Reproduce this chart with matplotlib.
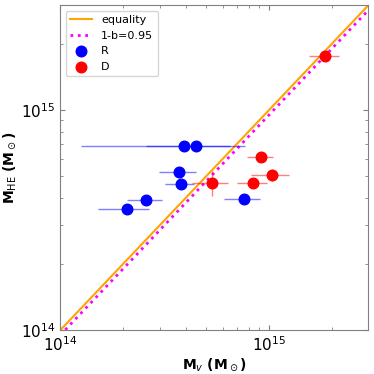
#!/usr/bin/env python3

import matplotlib
matplotlib.use("Agg")
import matplotlib.pyplot as plt
import numpy as np

# ---------------- data ----------------
# R sample: M_v, lower/upper bound of M_v, M_HE
r_mv = [2.10e14, 2.59e14, 3.71e14, 3.78e14, 3.92e14, 4.46e14, 7.59e14]
r_mv_lo = [1.52e14, 2.10e14, 2.98e14, 3.18e14, 1.26e14, 2.58e14, 6.08e14]
r_mv_hi = [2.67e14, 3.09e14, 4.46e14, 4.40e14, 6.50e14, 7.70e14, 9.08e14]
r_mhe = [3.57e14, 3.92e14, 5.24e14, 4.61e14, 6.88e14, 6.88e14, 3.95e14]

# D sample
d_mv = [1.86e15, 9.15e14, 1.04e15, 8.41e14, 5.35e14]
d_mv_lo = [1.56e15, 7.84e14, 8.22e14, 7.07e14, 4.30e14]
d_mv_hi = [2.16e15, 1.052e15, 1.256e15, 9.78e14, 6.36e14]
d_mhe = [1.77e15, 6.11e14, 5.08e14, 4.66e14, 4.69e14]
d_mhe_lo = [1.77e15, 6.11e14, 4.79e14, 4.66e14, 4.08e14]
d_mhe_hi = [1.77e15, 6.11e14, 5.39e14, 4.66e14, 5.30e14]

bias = 0.95
xlim = (1e14, 3e15)
ylim = (1e14, 3e15)


def asym(vals, lo, hi):
    vals = np.array(vals)
    return [vals - np.array(lo), np.array(hi) - vals]


fig, ax = plt.subplots(figsize=(3.74, 3.74), dpi=100)
fig.subplots_adjust(left=0.161, right=0.985, bottom=0.117, top=0.986)

grid = np.logspace(14, np.log10(3e15), 100)
ax.plot(grid, grid, color="orange", lw=1.5, label="equality")
ax.plot(grid, bias * grid, color="magenta", lw=2, ls=":", label="1-b=%.2f" % bias)

ax.errorbar(r_mv, r_mhe, xerr=asym(r_mv, r_mv_lo, r_mv_hi), fmt="none",
            ecolor="blue", alpha=0.5, lw=1)
ax.errorbar(d_mv, d_mhe, xerr=asym(d_mv, d_mv_lo, d_mv_hi),
            yerr=asym(d_mhe, d_mhe_lo, d_mhe_hi), fmt="none",
            ecolor="red", alpha=0.5, lw=1)
ax.scatter(r_mv, r_mhe, s=58, color="blue", label="R", zorder=3)
ax.scatter(d_mv, d_mhe, s=58, color="red", label="D", zorder=3)

ax.set_xscale("log")
ax.set_yscale("log")
ax.set_xlim(*xlim)
ax.set_ylim(*ylim)
ax.set_xlabel(r"M$_v$ (M$_\odot$)", fontsize=10, fontweight="bold", labelpad=2)
ax.set_ylabel(r"M$_{\rm HE}$ (M$_\odot$)", fontsize=10, fontweight="bold", labelpad=2)

ax.tick_params(which="both", direction="in", top=True, right=True,
               color="gray", labelsize=11)
for sp in ax.spines.values():
    sp.set_color("gray")

ax.legend(loc="upper left", fontsize=8)

plt.savefig("out.png", dpi=100)
